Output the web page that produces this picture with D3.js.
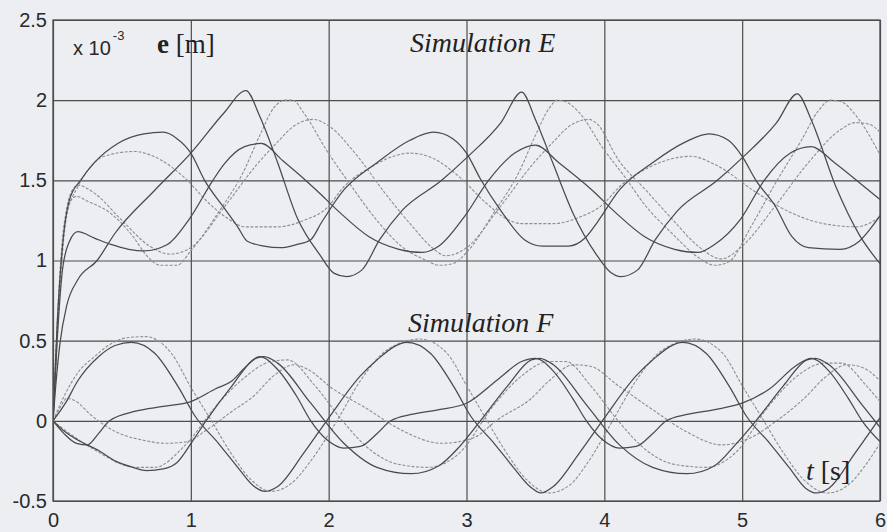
<!DOCTYPE html>
<html>
<head>
<meta charset="utf-8">
<script src="https://cdn.jsdelivr.net/npm/d3@7"></script>
<style>
  html, body { margin: 0; padding: 0; background: #eceef2; }
  svg { display: block; }
</style>
</head>
<body>
<svg id="chart" width="887" height="532"></svg>
<script>
// ---- axis ticks ----
const timeTicks = [0, 1, 2, 3, 4, 5, 6];
const timeTickLabels = ["0", "1", "2", "3", "4", "5", "6"];
const valueTicks = [-0.5, 0, 0.5, 1, 1.5, 2, 2.5];
const valueTickLabels = ["-0.5", "0", "0.5", "1", "1.5", "2", "2.5"];

// ---- Simulation E : error traces [t (s), e (x10^-3 m)] ----
const simE_dark1 = [[0,0],[0.02,0.22],[0.05,0.48],[0.1,0.72],[0.18,0.88],[0.32,1.0],[0.45,1.17],[0.74,1.44],[1.0,1.67],[1.24,1.92],[1.4,2.06],[1.5,1.9],[1.63,1.61],[1.77,1.27],[1.94,1.03],[2.04,0.92],[2.13,0.9],[2.24,0.94],[2.37,1.13],[2.53,1.31],[2.82,1.5],[3.0,1.64],[3.25,1.86],[3.4,2.05],[3.5,1.88],[3.63,1.6],[3.77,1.3],[3.94,1.04],[4.04,0.93],[4.12,0.9],[4.24,0.94],[4.37,1.13],[4.53,1.31],[4.82,1.5],[5.0,1.64],[5.25,1.86],[5.4,2.04],[5.5,1.88],[5.68,1.46],[5.85,1.16],[6.0,0.98]];
const simE_dark2 = [[0,0],[0.03,0.6],[0.07,1.1],[0.12,1.38],[0.2,1.5],[0.3,1.61],[0.47,1.73],[0.66,1.79],[0.8,1.8],[0.9,1.76],[1.0,1.67],[1.1,1.5],[1.24,1.33],[1.34,1.21],[1.41,1.12],[1.53,1.09],[1.65,1.08],[1.77,1.1],[1.87,1.13],[1.95,1.24],[2.11,1.44],[2.35,1.61],[2.59,1.75],[2.76,1.8],[2.9,1.76],[3.0,1.67],[3.1,1.51],[3.25,1.31],[3.42,1.13],[3.55,1.09],[3.74,1.09],[3.86,1.14],[3.95,1.24],[4.11,1.44],[4.35,1.61],[4.59,1.74],[4.76,1.79],[4.9,1.75],[5.0,1.65],[5.1,1.5],[5.24,1.34],[5.36,1.15],[5.48,1.08],[5.71,1.07],[5.85,1.12],[5.95,1.22],[6.0,1.28]];
const simE_dark3 = [[0,0],[0.03,0.5],[0.07,0.95],[0.12,1.12],[0.18,1.18],[0.3,1.14],[0.42,1.1],[0.55,1.07],[0.66,1.06],[0.83,1.1],[0.99,1.26],[1.16,1.5],[1.24,1.6],[1.39,1.71],[1.51,1.73],[1.67,1.62],[1.91,1.44],[2.08,1.3],[2.29,1.15],[2.51,1.07],[2.68,1.05],[2.8,1.09],[2.99,1.28],[3.16,1.5],[3.35,1.67],[3.5,1.72],[3.67,1.61],[3.91,1.44],[4.08,1.3],[4.29,1.15],[4.51,1.07],[4.68,1.05],[4.8,1.1],[4.99,1.26],[5.16,1.5],[5.35,1.67],[5.5,1.71],[5.67,1.61],[5.9,1.45],[6.0,1.38]];
const simE_light1 = [[0,0],[0.03,0.5],[0.06,0.95],[0.1,1.28],[0.18,1.46],[0.25,1.56],[0.37,1.65],[0.59,1.68],[0.73,1.65],[0.95,1.52],[1.14,1.35],[1.29,1.25],[1.39,1.21],[1.63,1.21],[1.82,1.25],[1.99,1.33],[2.11,1.46],[2.3,1.58],[2.47,1.65],[2.59,1.67],[2.75,1.64],[2.95,1.52],[3.14,1.36],[3.29,1.26],[3.4,1.23],[3.63,1.23],[3.82,1.27],[3.99,1.35],[4.11,1.46],[4.3,1.57],[4.47,1.63],[4.63,1.65],[4.8,1.6],[5.11,1.42],[5.35,1.3],[5.59,1.23],[5.83,1.21],[6.0,1.27]];
const simE_light2 = [[0,0],[0.03,0.6],[0.07,1.15],[0.12,1.36],[0.17,1.4],[0.25,1.37],[0.41,1.3],[0.58,1.15],[0.68,1.03],[0.78,0.97],[0.9,0.97],[1.0,1.06],[1.2,1.3],[1.38,1.55],[1.5,1.78],[1.6,1.95],[1.68,2.0],[1.74,2.0],[1.82,1.92],[1.99,1.68],[2.16,1.47],[2.35,1.25],[2.54,1.08],[2.71,1.0],[2.8,0.97],[2.9,0.98],[3.0,1.05],[3.2,1.3],[3.38,1.55],[3.5,1.78],[3.6,1.95],[3.66,2.0],[3.72,1.99],[3.82,1.92],[3.99,1.7],[4.15,1.52],[4.3,1.34],[4.49,1.17],[4.68,1.02],[4.8,0.97],[4.9,0.99],[5.07,1.22],[5.24,1.48],[5.43,1.75],[5.55,1.93],[5.64,2.0],[5.72,1.99],[5.82,1.91],[6.0,1.66]];
const simE_light3 = [[0,0],[0.03,0.55],[0.07,1.1],[0.12,1.4],[0.18,1.47],[0.3,1.42],[0.5,1.25],[0.7,1.09],[0.85,1.04],[1.0,1.08],[1.24,1.33],[1.48,1.6],[1.63,1.74],[1.75,1.84],[1.89,1.88],[2.0,1.84],[2.2,1.66],[2.4,1.43],[2.6,1.22],[2.75,1.08],[2.85,1.03],[3.0,1.08],[3.24,1.33],[3.48,1.6],[3.63,1.74],[3.75,1.84],[3.89,1.88],[3.95,1.85],[4.1,1.63],[4.3,1.44],[4.49,1.26],[4.68,1.09],[4.85,1.01],[5.0,1.09],[5.24,1.34],[5.48,1.61],[5.72,1.82],[5.82,1.86],[5.92,1.85],[6.0,1.8]];

// ---- Simulation F : error traces [t (s), e (x10^-3 m)] ----
const simF_dark1 = [[0,0],[0.09,0.11],[0.18,0.25],[0.33,0.4],[0.45,0.47],[0.57,0.49],[0.74,0.42],[0.91,0.21],[1.03,0.03],[1.2,-0.14],[1.34,-0.29],[1.46,-0.41],[1.54,-0.44],[1.63,-0.41],[1.82,-0.2],[2.01,0.03],[2.23,0.28],[2.35,0.38],[2.57,0.49],[2.74,0.42],[2.91,0.21],[3.03,0.03],[3.2,-0.14],[3.34,-0.29],[3.46,-0.41],[3.54,-0.45],[3.63,-0.41],[3.82,-0.2],[4.01,0.03],[4.23,0.28],[4.35,0.38],[4.57,0.49],[4.74,0.42],[4.91,0.21],[5.03,0.03],[5.2,-0.14],[5.34,-0.29],[5.46,-0.42],[5.54,-0.45],[5.63,-0.42],[5.82,-0.2],[6.0,0.02]];
const simF_dark2 = [[0,0],[0.09,-0.07],[0.18,-0.12],[0.34,-0.19],[0.45,-0.25],[0.58,-0.29],[0.68,-0.31],[0.8,-0.3],[0.9,-0.26],[1.01,-0.13],[1.11,0.0],[1.3,0.22],[1.47,0.39],[1.53,0.4],[1.63,0.36],[1.87,0.11],[2.11,-0.14],[2.35,-0.29],[2.6,-0.33],[2.8,-0.28],[2.95,-0.16],[3.1,0.0],[3.3,0.22],[3.47,0.38],[3.53,0.39],[3.63,0.35],[3.87,0.1],[4.11,-0.15],[4.35,-0.29],[4.6,-0.33],[4.8,-0.28],[4.95,-0.15],[5.1,0.0],[5.3,0.22],[5.47,0.38],[5.53,0.39],[5.63,0.35],[5.87,0.1],[6.0,-0.04]];
const simF_dark3 = [[0,0],[0.08,-0.08],[0.17,-0.14],[0.25,-0.15],[0.33,-0.08],[0.41,0.0],[0.6,0.06],[0.8,0.09],[1.0,0.12],[1.18,0.2],[1.3,0.25],[1.39,0.33],[1.5,0.4],[1.63,0.32],[1.77,0.15],[1.87,0.0],[1.99,-0.12],[2.11,-0.17],[2.23,-0.16],[2.35,-0.08],[2.45,0.0],[2.6,0.04],[2.8,0.07],[3.0,0.11],[3.23,0.26],[3.4,0.37],[3.5,0.39],[3.63,0.31],[3.77,0.14],[3.87,0.0],[3.99,-0.12],[4.11,-0.17],[4.23,-0.16],[4.35,-0.08],[4.45,0.0],[4.6,0.04],[4.8,0.07],[5.0,0.11],[5.2,0.2],[5.4,0.35],[5.5,0.39],[5.63,0.31],[5.77,0.14],[5.87,0.0],[6.0,-0.13]];
const simF_light1 = [[0,0],[0.09,0.17],[0.18,0.3],[0.3,0.4],[0.42,0.48],[0.55,0.52],[0.67,0.525],[0.86,0.42],[1.0,0.21],[1.15,0.0],[1.29,-0.2],[1.44,-0.37],[1.58,-0.44],[1.73,-0.39],[1.87,-0.25],[2.06,0.0],[2.23,0.25],[2.42,0.44],[2.66,0.51],[2.86,0.42],[3.0,0.22],[3.15,0.0],[3.29,-0.2],[3.44,-0.37],[3.6,-0.45],[3.75,-0.4],[3.88,-0.26],[4.06,0.0],[4.23,0.25],[4.42,0.44],[4.66,0.51],[4.86,0.42],[5.0,0.22],[5.15,0.01],[5.3,-0.2],[5.45,-0.37],[5.62,-0.45],[5.77,-0.4],[5.9,-0.27],[6.0,-0.14]];
const simF_light2 = [[0,0],[0.09,-0.06],[0.3,-0.18],[0.6,-0.29],[0.74,-0.29],[0.95,-0.16],[1.2,0.11],[1.39,0.27],[1.58,0.37],[1.7,0.38],[1.9,0.22],[2.1,0.0],[2.3,-0.18],[2.5,-0.27],[2.72,-0.29],[2.95,-0.2],[3.2,0.1],[3.4,0.28],[3.6,0.37],[3.72,0.37],[3.9,0.22],[4.1,0.0],[4.3,-0.18],[4.5,-0.27],[4.74,-0.29],[4.95,-0.2],[5.2,0.1],[5.4,0.28],[5.6,0.36],[5.72,0.36],[5.9,0.22],[6.0,0.12]];
const simF_light3 = [[0,0],[0.05,0.08],[0.1,0.14],[0.17,0.12],[0.27,0.04],[0.46,-0.07],[0.65,-0.12],[0.82,-0.14],[0.97,-0.13],[1.11,-0.06],[1.3,0.06],[1.45,0.15],[1.6,0.28],[1.75,0.35],[1.85,0.32],[2.03,0.2],[2.27,0.08],[2.51,-0.05],[2.82,-0.14],[3.04,-0.11],[3.23,0.01],[3.47,0.14],[3.6,0.25],[3.78,0.35],[3.9,0.34],[4.1,0.22],[4.35,0.07],[4.6,-0.07],[4.85,-0.15],[5.05,-0.11],[5.25,0.0],[5.45,0.14],[5.6,0.27],[5.76,0.35],[5.88,0.33],[6.0,0.25]];

const darkTraces  = [simE_dark1, simE_dark2, simE_dark3, simF_dark1, simF_dark2, simF_dark3];
const lightTraces = [simE_light1, simE_light2, simE_light3, simF_light1, simF_light2, simF_light3];

// ---- layout ----
const W = 887, H = 532;
const plot = { left: 53, right: 880, top: 20, bottom: 501 };

const x = d3.scaleLinear().domain([0, 6]).range([plot.left, plot.right]);
const y = d3.scaleLinear().domain([-0.5, 2.5]).range([plot.bottom, plot.top]);

const svg = d3.select("#chart");
svg.append("rect").attr("width", W).attr("height", H).attr("fill", "#eceef2");

svg.append("defs").append("clipPath").attr("id", "plotClip")
  .append("rect")
  .attr("x", plot.left).attr("y", plot.top)
  .attr("width", plot.right - plot.left).attr("height", plot.bottom - plot.top);

const tickFont = "'Liberation Sans', Arial, sans-serif";
const gridColor = "#4d4d4d";

// y axis with full-width grid lines
const yAxis = d3.axisLeft(y)
  .tickValues(valueTicks)
  .tickFormat((d, i) => valueTickLabels[i])
  .tickSize(-(plot.right - plot.left))
  .tickPadding(6);
const gy = svg.append("g").attr("transform", `translate(${plot.left},0)`).call(yAxis);
gy.select(".domain").remove();
gy.selectAll("line").attr("stroke", gridColor).attr("stroke-width", 1.2);
gy.selectAll("text").attr("font-family", tickFont).attr("font-size", 20).attr("fill", "#2a2a2a");

// x axis with full-height grid lines
const xAxis = d3.axisBottom(x)
  .tickValues(timeTicks)
  .tickFormat((d, i) => timeTickLabels[i])
  .tickSize(-(plot.bottom - plot.top))
  .tickPadding(12);
const gx = svg.append("g").attr("transform", `translate(0,${plot.bottom})`).call(xAxis);
gx.select(".domain").remove();
gx.selectAll("line").attr("stroke", gridColor).attr("stroke-width", 1.2);
gx.selectAll("text").attr("font-family", tickFont).attr("font-size", 20).attr("fill", "#2a2a2a");

// frame
svg.append("rect")
  .attr("x", plot.left).attr("y", plot.top)
  .attr("width", plot.right - plot.left).attr("height", plot.bottom - plot.top)
  .attr("fill", "none").attr("stroke", gridColor).attr("stroke-width", 1.3);

// traces
const line = d3.line()
  .x(d => x(d[0]))
  .y(d => y(d[1]))
  .curve(d3.curveMonotoneX);

const traces = svg.append("g").attr("clip-path", "url(#plotClip)");

traces.selectAll("path.light").data(lightTraces).join("path")
  .attr("class", "light")
  .attr("d", line)
  .attr("fill", "none")
  .attr("stroke", "#8e8e92")
  .attr("stroke-width", 1.1)
  .attr("stroke-dasharray", "3,1.6");

traces.selectAll("path.dark").data(darkTraces).join("path")
  .attr("class", "dark")
  .attr("d", line)
  .attr("fill", "none")
  .attr("stroke", "#4a4a4e")
  .attr("stroke-width", 1.25);

// annotations
const serif = "'Liberation Serif', 'Times New Roman', serif";

const scale = svg.append("text")
  .attr("x", 73).attr("y", 55)
  .attr("font-family", tickFont).attr("font-size", 20).attr("fill", "#2a2a2a");
scale.append("tspan").text("x 10");
scale.append("tspan").attr("font-size", 13).attr("dy", -15).attr("dx", 2).text("-3");

const unit = svg.append("text")
  .attr("x", 157).attr("y", 53)
  .attr("font-family", serif).attr("font-size", 27).attr("fill", "#222");
unit.append("tspan").attr("font-weight", "bold").text("e");
unit.append("tspan").text(" [m]");

svg.append("text")
  .attr("x", 410).attr("y", 52)
  .attr("font-family", serif).attr("font-style", "italic")
  .attr("font-size", 28).attr("fill", "#222")
  .text("Simulation E");

svg.append("text")
  .attr("x", 408).attr("y", 332)
  .attr("font-family", serif).attr("font-style", "italic")
  .attr("font-size", 28).attr("fill", "#222")
  .text("Simulation F");

const tLabel = svg.append("text")
  .attr("x", 806).attr("y", 480)
  .attr("font-family", serif).attr("font-size", 28).attr("fill", "#222");
tLabel.append("tspan").attr("font-style", "italic").text("t");
tLabel.append("tspan").text(" [s]");
</script>
</body>
</html>
